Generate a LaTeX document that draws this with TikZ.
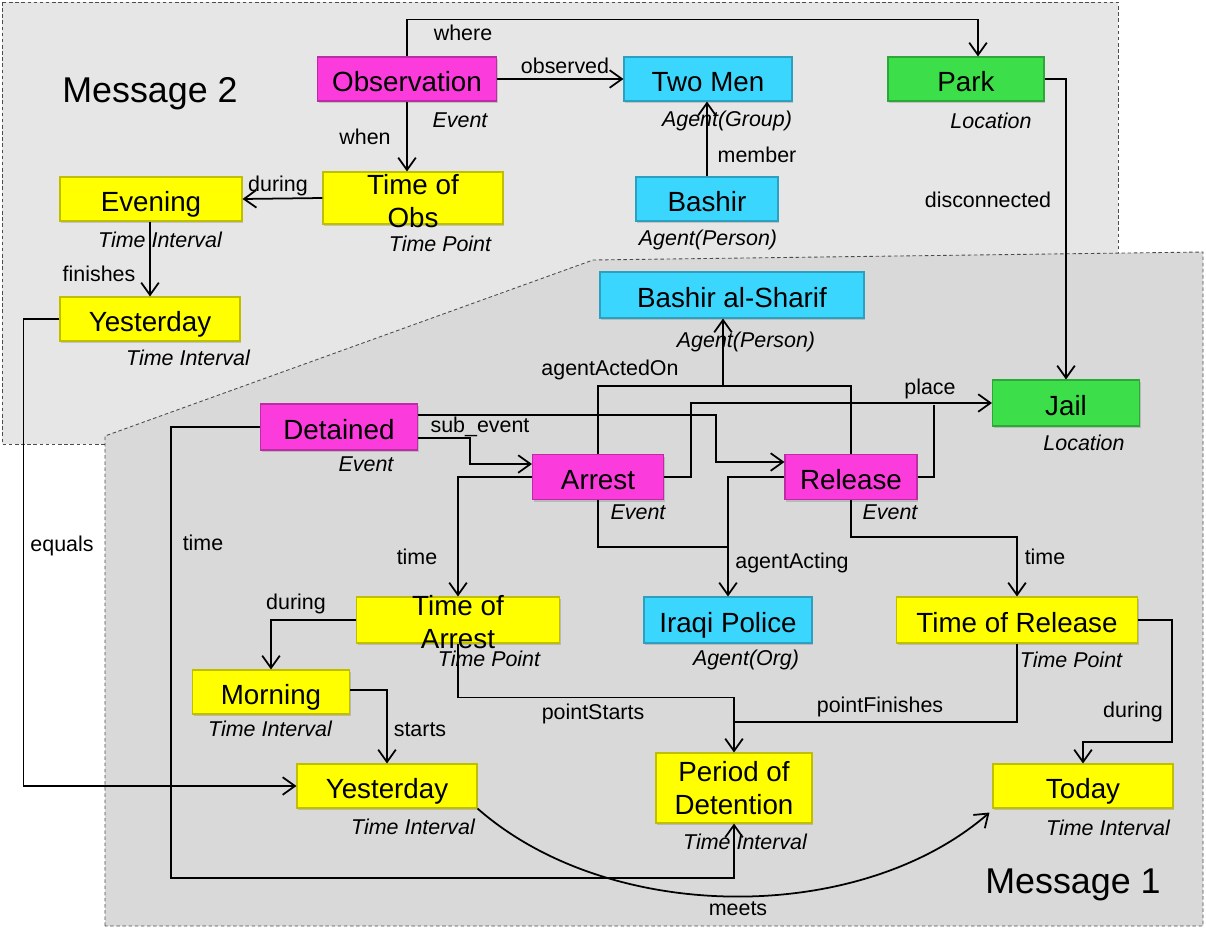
\documentclass[tikz,border=0pt]{standalone}
\usepackage{fontspec}
\setmainfont{Liberation Sans}
\usetikzlibrary{arrows.meta,shadows,calc}
\definecolor{mag}{HTML}{FB3BDB}
\definecolor{cyn}{HTML}{3AD6FE}
\definecolor{grn}{HTML}{3CDF4A}
\definecolor{yel}{HTML}{FFFF00}
\definecolor{bgtwo}{HTML}{E6E6E6}
\definecolor{bgone}{HTML}{D9D9D9}
\tikzset{
  box/.style={draw=#1!75!black, line width=0.6pt, fill=#1,
    drop shadow={shadow xshift=0.8pt, shadow yshift=-1.2pt, opacity=0.35},
    font=\fontsize{15.8}{18.7}\selectfont, inner sep=0pt, align=center},
  one/.style={text height=17.7pt, text depth=3.3pt},
  sz/.style 2 args={minimum width=#1*0.02cm, minimum height=#2*0.02cm},
  typ/.style={font=\fontsize{12.2}{14}\selectfont\itshape, inner sep=0pt},
  elab/.style={font=\fontsize{12.2}{14}\selectfont, inner sep=0pt},
  msg/.style={font=\fontsize{20.4}{24}\selectfont, inner sep=0pt},
  region/.style={draw=black!70, line width=0.5pt, dash pattern=on 2pt off 1.5pt},
  conn/.style={line width=1pt, black},
  arr/.style={conn, -{Straight Barb[length=7pt,width=10pt,line width=1pt]}}
}
\begin{document}
\begin{tikzpicture}[x=0.02cm, y=-0.02cm]
\useasboundingbox (0,0) rectangle (1206,936);
% regions
\path[region, fill=bgtwo] (2,2) rectangle (1118,444);
\path[region, fill=bgone] (105,926) -- (105,436) -- (593,260) -- (1203,252) -- (1203,926) -- cycle;
\node[msg] (m2) at (150,94) {Message 2};
\node[msg] (m1) at (1073,885) {Message 1};

% nodes
\node[box=mag, one, sz={179}{44}] (obs) at (407,79) {Observation};
\node[box=cyn, one, sz={168}{44}] (twomen) at (708,79) {Two Men};
\node[box=grn, one, sz={156}{44}] (park) at (966,79) {Park};
\node[box=cyn, one, sz={142}{44}] (bashir) at (707,199) {Bashir};
\node[box=yel, sz={180}{52}] (tobs) at (413,198) {\smash{\raisebox{-0.26cm}{\begin{tabular}{@{}c@{}}Time of\\Obs\end{tabular}}}};
\node[box=yel, one, sz={182}{44}] (eve) at (151,199) {Evening};
\node[box=yel, one, sz={180}{44}] (yest1) at (150,319) {Yesterday};
\node[box=cyn, one, sz={264}{46}] (bas) at (732,295) {Bashir al-Sharif};
\node[box=grn, one, sz={147}{46}] (jail) at (1066,403) {Jail};
\node[box=mag, one, sz={157}{46}] (det) at (339,427) {Detained};
\node[box=mag, one, sz={131}{45}] (arrest) at (598,477) {Arrest};
\node[box=mag, one, sz={132}{45}] (rel) at (851,477) {Release};
\node[box=yel, sz={203}{46}] (toa) at (458,620) {\smash{\raisebox{-0.24cm}{\begin{tabular}{@{}c@{}}Time of\\Arrest\end{tabular}}}};
\node[box=cyn, one, sz={168}{46}] (police) at (728,620) {Iraqi Police};
\node[box=yel, one, sz={241}{46}] (tor) at (1017,620) {Time of Release};
\node[box=yel, one, sz={157}{44}] (morning) at (271,692) {Morning};
\node[box=yel, one, sz={180}{44}] (yest2) at (387,786) {Yesterday};
\node[box=yel, sz={156}{70}] (pod) at (734,788) {Period of\\Detention};
\node[box=yel, one, sz={180}{44}] (today) at (1083,786) {Today};

% helper coordinates
\coordinate (aao) at (723,386);
\coordinate (plc) at (934,405);
\coordinate (aa) at (728,547);
\coordinate (pf) at (734,722);

% connectors
\draw[arr] (obs.north) -- ++(0,-37) -| ([xshift=0.24cm]park.north);
\draw[arr] (obs.east) -- (twomen.west);
\draw[arr] (obs.south) -- (obs.south |- tobs.north);
\draw[arr] (tobs.west) -- (eve.east);
\draw[arr] (bashir.north) -- (bashir.north |- twomen.south);
\draw[arr] ([xshift=-0.02cm]eve.south) -- (yest1.north);
\draw[arr] (park.east) -| (jail.north);
\draw[arr] (yest1.west) -- ++(-36,0) |- (yest2.west);
\draw[arr] (det.west) -- ++(-89,0) -- ++(0,451) -| (pod.south);
\draw[arr] ([yshift=-0.22cm]det.east) -- ++(52,0) |- ([yshift=0.26cm]arrest.west);
\draw[arr] ([yshift=0.24cm]det.east) -- ++(298,0) |- ([yshift=0.3cm]rel.west);
\draw[conn] (arrest.north) |- (aao) -| (rel.north);
\draw[arr] (aao) -- (aao |- bas.south);
\draw[arr] (arrest.east) -- ++(27,0) |- (jail.west);
\draw[conn] (rel.east) -| (plc);
\draw[arr] (rel.west) -| (police.north);
\draw[conn] (arrest.south) |- (aa);
\draw[arr] (arrest.west) -| (toa.north);
\draw[arr] (rel.south) -- ++(0,37) -| (tor.north);
\draw[arr] (toa.west) -| (morning.north);
\draw[arr] ([yshift=0.04cm]morning.east) -| (yest2.north);
\draw[arr] (toa.south) -- ++(0,54) -| (pod.north);
\draw[conn] (tor.south) |- (pf);
\draw[arr] (tor.east) -- ++(34,0) -- ++(0,122) -| (today.north);
\draw[arr] (yest2.south east) .. controls (610,925) and (860,925) .. ([xshift=-0.06cm,yshift=-0.08cm]today.south west);

% type labels
\node[typ] (t1) at (460,120) {Event};
\node[typ] (t2) at (727,121) {Agent(Group)};
\node[typ] (t3) at (991,121) {Location};
\node[typ] (t4) at (708,240) {Agent(Person)};
\node[typ] (t5) at (440,244) {Time Point};
\node[typ] (t6) at (160,240) {Time Interval};
\node[typ] (t7) at (188,358) {Time Interval};
\node[typ] (t8) at (746,342) {Agent(Person)};
\node[typ] (t9) at (1084,443) {Location};
\node[typ] (t10) at (366,464) {Event};
\node[typ] (t11) at (638,512) {Event};
\node[typ] (t12) at (890,512) {Event};
\node[typ] (t13) at (489,659) {Time Point};
\node[typ] (t14) at (746,660) {Agent(Org)};
\node[typ] (t15) at (1071,660) {Time Point};
\node[typ] (t16) at (270,729) {Time Interval};
\node[typ] (t17) at (413,827) {Time Interval};
\node[typ] (t18) at (745,842) {Time Interval};
\node[typ] (t19) at (1108,828) {Time Interval};

% edge labels
\node[elab] (e1) at (463,33) {where};
\node[elab] (e2) at (565,66) {observed};
\node[elab] (e3) at (365,137) {when};
\node[elab] (e4) at (278,186) {during};
\node[elab] (e5) at (757,155) {member};
\node[elab] (e6) at (99,274) {finishes};
\node[elab] (e7) at (988,200) {disconnected};
\node[elab] (e8) at (62,546) {equals};
\node[elab] (e9) at (203,543) {time};
\node[elab] (e10) at (480,427) {sub\_event};
\node[elab] (e11) at (610,370) {agentActedOn};
\node[elab] (e12) at (930,389) {place};
\node[elab] (e13) at (792,563) {agentActing};
\node[elab] (e14) at (417,557) {time};
\node[elab] (e15) at (1045,557) {time};
\node[elab] (e16) at (296,604) {during};
\node[elab] (e17) at (420,730) {starts};
\node[elab] (e18) at (593,714) {pointStarts};
\node[elab] (e19) at (880,707) {pointFinishes};
\node[elab] (e20) at (1133,712) {during};
\node[elab] (e21) at (738,909) {meets};
\end{tikzpicture}
\end{document}
